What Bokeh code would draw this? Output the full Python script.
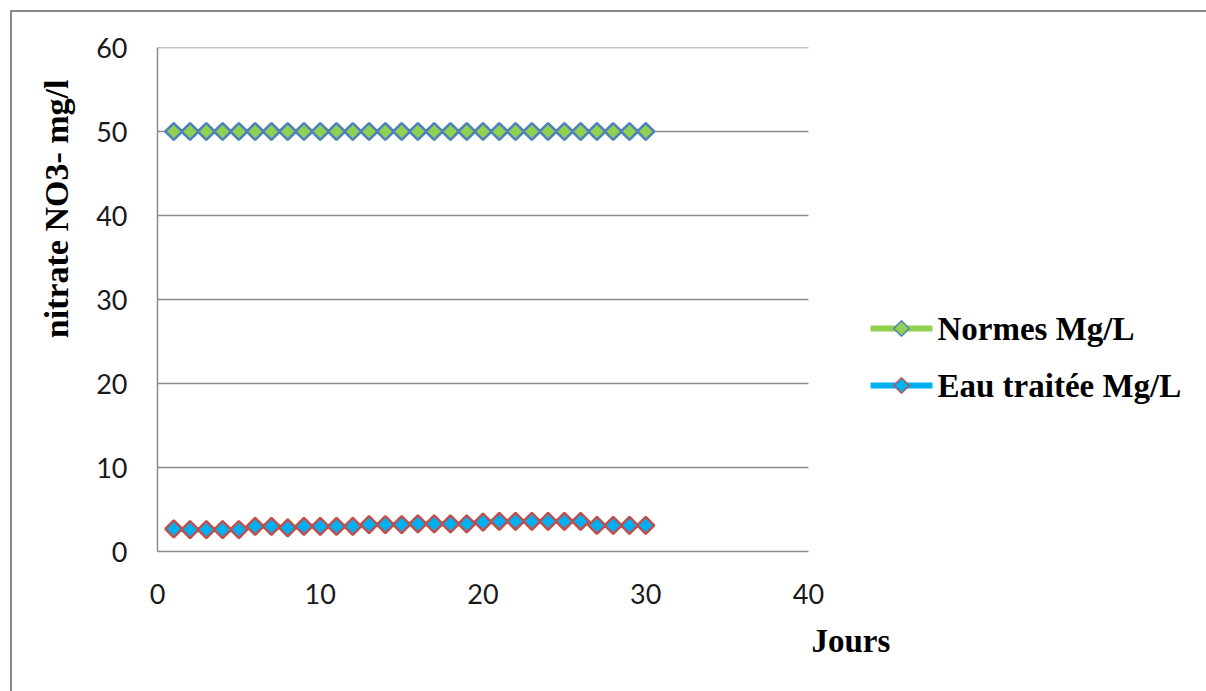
from bokeh.plotting import figure
from bokeh.models import Range1d, FixedTicker, Title
from bokeh.core.properties import value
from bokeh.embed import file_html
from bokeh.resources import INLINE
import math

jours = [1, 2, 3, 4, 5, 6, 7, 8, 9, 10, 11, 12, 13, 14, 15,
         16, 17, 18, 19, 20, 21, 22, 23, 24, 25, 26, 27, 28, 29, 30]
normes = [50, 50, 50, 50, 50, 50, 50, 50, 50, 50, 50, 50, 50, 50, 50,
          50, 50, 50, 50, 50, 50, 50, 50, 50, 50, 50, 50, 50, 50, 50]
eau_traitee = [2.7, 2.6, 2.6, 2.6, 2.6, 3.0, 3.0, 2.8, 3.0, 3.0, 3.0, 3.0, 3.2, 3.2, 3.2,
               3.3, 3.3, 3.3, 3.3, 3.5, 3.6, 3.6, 3.6, 3.6, 3.6, 3.6, 3.1, 3.1, 3.1, 3.1]
x_ticks = [0, 10, 20, 30, 40]
y_ticks = [0, 10, 20, 30, 40, 50, 60]
series_names = ["Normes Mg/L", "Eau traitée Mg/L"]
series_line = ["#92D050", "#00B0F0"]
series_edge = ["#4F81BD", "#C0504D"]
x_title = "Jours"
y_title = "nitrate NO3- mg/l"

# layout: axes 0..40 occupy 651 px; the frame continues to the right to host the legend
PX_PER_X = 651 / 40.0
PX_PER_Y = 504 / 60.0
FRAME_W = 1049
x_end = FRAME_W / PX_PER_X

p = figure(frame_width=FRAME_W, frame_height=504,
           min_border_left=145, min_border_right=0,
           min_border_top=35, min_border_bottom=140,
           x_range=Range1d(0, x_end), y_range=Range1d(0, 60),
           output_backend="svg", toolbar_location=None)
p.styles = {"margin-left": "10px", "margin-top": "10px",
            "border-left": "2px solid #8a8a8a", "border-top": "2px solid #8a8a8a"}
p.outline_line_color = None
p.background_fill_color = "white"
p.border_fill_color = "white"

for ax in (p.xaxis[0], p.yaxis[0]):
    ax.axis_line_color = "#8a8a8a"
    ax.axis_line_width = 1.5
    ax.major_tick_line_color = None
    ax.minor_tick_line_color = None
    ax.major_label_text_font = "Lato"
    ax.major_label_text_font_size = "27px"
    ax.major_label_text_color = "#1a1a1a"
p.xaxis.ticker = FixedTicker(ticks=x_ticks)
p.xaxis.bounds = (x_ticks[0], x_ticks[-1])
p.yaxis.ticker = FixedTicker(ticks=y_ticks)
p.xaxis.major_label_standoff = 26
p.yaxis.major_label_standoff = 24

p.xgrid.grid_line_color = None
p.ygrid.grid_line_color = None

# horizontal gridlines limited to the plotting area 0..40
grid_y = y_ticks[1:]
p.segment(x0=[x_ticks[0]] * len(grid_y), x1=[x_ticks[-1]] * len(grid_y),
          y0=grid_y, y1=grid_y, line_color="#8a8a8a", line_width=1.5)

p.line(jours, normes, line_color=series_line[0], line_width=5)
p.scatter(jours, normes, marker="square", angle=math.pi / 4, size=12,
          fill_color=series_line[0], line_color=series_edge[0], line_width=2.5)
p.line(jours, eau_traitee, line_color=series_line[1], line_width=5)
p.scatter(jours, eau_traitee, marker="square", angle=math.pi / 4, size=12,
          fill_color=series_line[1], line_color=series_edge[1], line_width=2.5)

# legend (drawn to the right of the axes area)
leg_px_x0, leg_px_x1, leg_px_text = 713, 775, 780
leg_px_rows = [223, 166]
lx0 = leg_px_x0 / PX_PER_X
lx1 = leg_px_x1 / PX_PER_X
lxm = (lx0 + lx1) / 2
ltx = leg_px_text / PX_PER_X
ly = [r / PX_PER_Y for r in leg_px_rows]
p.segment(x0=[lx0, lx0], x1=[lx1, lx1], y0=ly, y1=ly,
          line_color=series_line, line_width=6)
p.scatter([lxm, lxm], ly, marker="square", angle=math.pi / 4, size=11,
          fill_color=series_line, line_color=series_edge, line_width=1.5)
p.text([ltx, ltx], ly, text=series_names, text_align="left", text_baseline="middle",
       text_font=value("Liberation Serif"), text_font_style="bold",
       text_font_size="33px", text_color="black")

p.add_layout(Title(text=y_title, align="right", offset=32, standoff=38,
                   text_font="Liberation Serif", text_font_style="bold",
                   text_font_size="34px", text_color="black"), "left")
p.add_layout(Title(text=x_title, align="left", offset=654, standoff=29,
                   text_font="Liberation Serif", text_font_style="bold",
                   text_font_size="33px", text_color="black"), "below")

open("out.html", "w").write(file_html(p, INLINE))
